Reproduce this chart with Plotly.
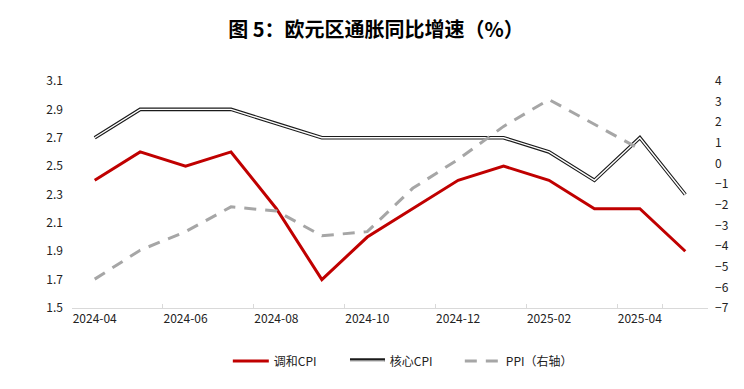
import plotly.graph_objects as go

months = ["2024-04", "2024-05", "2024-06", "2024-07", "2024-08", "2024-09", "2024-10",
          "2024-11", "2024-12", "2025-01", "2025-02", "2025-03", "2025-04", "2025-05"]
hicp = [2.4, 2.6, 2.5, 2.6, 2.2, 1.7, 2.0, 2.2, 2.4, 2.5, 2.4, 2.2, 2.2, 1.9]
core = [2.7, 2.9, 2.9, 2.9, 2.8, 2.7, 2.7, 2.7, 2.7, 2.7, 2.6, 2.4, 2.7, 2.3]
ppi = [-5.6, -4.2, -3.3, -2.1, -2.3, -3.5, -3.3, -1.2, 0.2, 1.8, 3.1, 1.9, 0.7, None]

label_months = months[::2]
left_ticks = [1.5, 1.7, 1.9, 2.1, 2.3, 2.5, 2.7, 2.9, 3.1]
right_ticks = list(range(-7, 5))

FONT = "Noto Sans CJK SC"

fig = go.Figure()
fig.add_trace(go.Scatter(x=months, y=hicp, name="调和CPI", mode="lines",
                         line=dict(color="#C00000", width=3)))
fig.add_trace(go.Scatter(x=months, y=core, name="核心CPI", mode="lines", showlegend=False,
                         legendgroup="core", line=dict(color="#1a1a1a", width=3.6)))
fig.add_trace(go.Scatter(x=months, y=core, name="核心CPI", mode="lines", legendgroup="core",
                         line=dict(color="#ffffff", width=1.4)))
fig.add_trace(go.Scatter(x=months, y=ppi, name="PPI（右轴）", mode="lines", yaxis="y2",
                         line=dict(color="#A6A6A6", width=3, dash="12px,9px")))

# dark outline under the white legend stroke of the core series (double-line look)
fig.add_shape(type="line", xref="paper", yref="paper", x0=0.4371, x1=0.4921,
              y0=-0.229, y1=-0.229, line=dict(color="#1a1a1a", width=3.6), layer="below")

# page has an 8px body margin; the figure is sized to fit inside the window
fig.update_layout(
    width=736, height=381,
    paper_bgcolor="white", plot_bgcolor="white",
    margin=dict(l=64, r=36, t=73, b=81, autoexpand=False),
    font=dict(family=FONT, size=12, color="#222222"),
    title=dict(text="<b>图 5：欧元区通胀同比增速（%）</b>", x=0.5, xanchor="center",
               y=0.942, yanchor="middle", font=dict(family=FONT, size=20, color="#000000")),
    xaxis=dict(type="category", range=[-0.5, 13.5], tickmode="array",
               tickvals=label_months, ticktext=label_months, tickson="boundaries",
               tickangle=0,
               ticks="inside", ticklen=4, tickcolor="#D9D9D9",
               showline=True, linecolor="#D9D9D9", linewidth=1,
               showgrid=False, tickfont=dict(size=12, color="#222222")),
    yaxis=dict(range=[1.5, 3.1], tickvals=left_ticks, ticktext=[f"{v:.1f}" for v in left_ticks],
               showgrid=False, zeroline=False, showline=False, ticks="",
               ticklabelstandoff=8, tickfont=dict(size=12, color="#222222")),
    yaxis2=dict(range=[-7, 4], tickvals=right_ticks, overlaying="y", side="right",
                showgrid=False, zeroline=False, showline=False, ticks="",
                ticklabelstandoff=6, tickfont=dict(size=12, color="#222222")),
    legend=dict(orientation="h", x=0.245, xanchor="left", y=-0.17, yanchor="top",
                bgcolor="rgba(0,0,0,0)",
                font=dict(size=12, color="#222222"), itemwidth=36,
                entrywidth=65, entrywidthmode="pixels"),
)

fig.write_html("out.html")
